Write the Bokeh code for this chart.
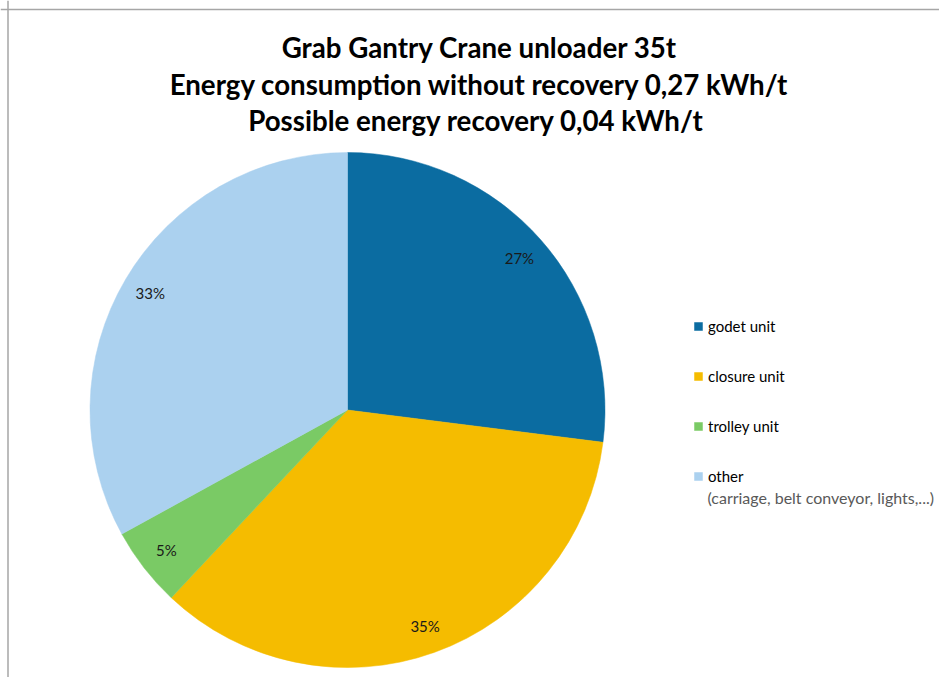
import numpy as np
from bokeh.plotting import figure
from bokeh.models import Range1d, Label, Legend, LegendItem, Span, ColumnDataSource
from bokeh.core.properties import value
from bokeh.embed import file_html
from bokeh.resources import INLINE

# ---- data ----
categories = ["godet unit", "closure unit", "trolley unit", "other"]
shares = [27, 35, 5, 33]
pct_labels = ["27%", "35%", "5%", "33%"]
colors = ["#0B6CA1", "#F5BC00", "#7ACA65", "#ABD1EF"]
title_lines = [
    "Grab Gantry Crane unloader 35t",
    "Energy consumption without recovery 0,27 kWh/t",
    "Possible energy recovery  0,04 kWh/t",
]
other_note = "(carriage, belt conveyor, lights,...)"

W, H = 939, 677
FONT = "Lato"

p = figure(width=W, height=H, x_range=Range1d(0, W), y_range=Range1d(0, H),
           output_backend="svg", toolbar_location=None, min_border=0)
p.axis.visible = False
p.grid.visible = False
p.outline_line_color = None
p.background_fill_color = "white"
p.border_fill_color = "white"

# frame lines (top and left)
p.add_layout(Span(location=p.y_range.end - 9, dimension="width", line_color="#A6A6A6", line_width=1.5))
p.add_layout(Span(location=p.x_range.start + 7.5, dimension="height", line_color="#A6A6A6", line_width=1.5))

# ---- pie ----
cx, cy, r = 347, 267.5, 257.5
frac = np.array(shares, dtype=float) / sum(shares)
cum = np.concatenate([[0.0], np.cumsum(frac)])
start = np.pi / 2 - 2 * np.pi * cum[1:]
end = np.pi / 2 - 2 * np.pi * cum[:-1]
mid = (start + end) / 2
lr = 0.89 * r

src = ColumnDataSource(dict(
    x=[cx] * len(shares), y=[cy] * len(shares), start=start, end=end,
    color=colors, cat=categories,
    lx=cx + lr * np.cos(mid), ly=cy + lr * np.sin(mid), lab=pct_labels,
))

wr = p.wedge(x="x", y="y", radius=r, start_angle="start", end_angle="end",
             fill_color="color", line_color="color", line_width=0.5, source=src)

p.text(x="lx", y="ly", text="lab", text_align="center", text_baseline="middle",
       text_font=value(FONT), text_font_size="15px", text_color="#1A1A1A", source=src)

# ---- titles ----
baselines = [630, 593, 557]
for t, b in zip(title_lines, baselines):
    p.add_layout(Label(x=479, y=b, x_units="screen", y_units="screen", text=t,
                       text_align="center", text_baseline="alphabetic",
                       text_font=FONT, text_font_size="27.7px", text_font_style="bold",
                       text_color="black"))

# ---- legend ----
items = [LegendItem(label=c, renderers=[wr], index=i) for i, c in enumerate(categories)]
leg = Legend(items=items, location=(693, 191), orientation="vertical",
             glyph_width=10, glyph_height=10, label_height=20, spacing=30,
             label_standoff=5, padding=0, margin=0, border_line_color=None,
             background_fill_alpha=0, label_text_font=FONT,
             label_text_font_size="15px", label_text_color="black")
p.add_layout(leg)

p.add_layout(Label(x=707, y=H - 497, x_units="screen", y_units="screen", text=other_note,
                   text_align="left", text_baseline="middle", text_font=FONT,
                   text_font_size="16px", text_color="#595959"))

open("out.html", "w").write(file_html(p, INLINE))
